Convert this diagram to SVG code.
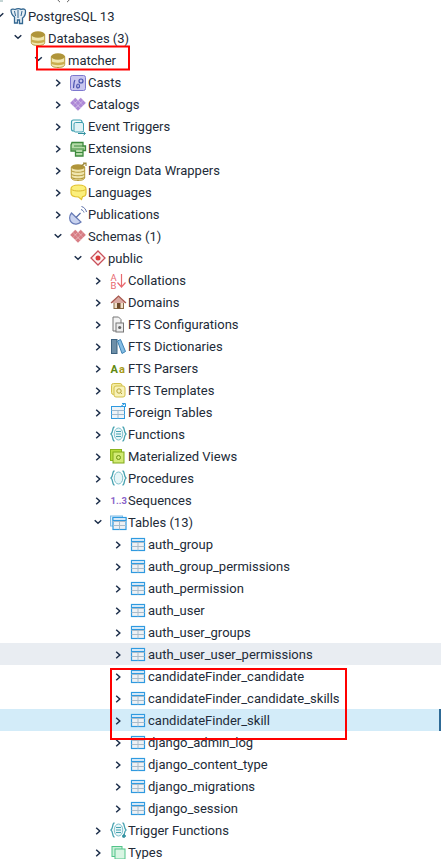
<svg xmlns="http://www.w3.org/2000/svg" width="441" height="859" viewBox="0 0 441 859">
<style>
text{font-family:Roboto,"Liberation Sans",sans-serif;font-size:13px;fill:#222b38}
.c{fill:none;stroke:#1c2e4a;stroke-width:1.500}
.red{fill:none;stroke:#f00;stroke-width:2}
</style>
<defs>
<path id="r" class="c" d="M-1.800-2.200L1.800 1L-1.800 4.200"/>
<path id="d" class="c" d="M-3.300-.7L0 2.300L3.300-.7"/>
<g id="db"><path d="M.3 3.500V11.500C.3 13.500 3 14.500 7 14.500S13.700 13.500 13.700 11.500V3.500Z" fill="#f0e6ae" stroke="#b59a3c"/><path d="M.3 8C2 10.300 12 10.300 13.700 8V10.500C12 12.800 2 12.800 .3 10.500Z" fill="#c9ae50"/><ellipse cx="7" cy="3.500" rx="6.800" ry="3.200" fill="#b0953a"/></g>
<g id="lattice"><g fill="currentColor" fill-opacity=".75" stroke="currentColor" stroke-opacity=".45" stroke-width=".6"><path d="M5.300.4L7.600 2.700L5.300 5L3 2.700ZM10.700.4L13 2.700L10.700 5L8.400 2.700ZM2.700 3.100L5 5.400L2.700 7.700L.4 5.400ZM8 3.100L10.300 5.400L8 7.700L5.700 5.400ZM13.300 3.100L15.600 5.400L13.300 7.700L11 5.400ZM5.300 5.700L7.600 8L5.300 10.300L3 8ZM10.700 5.700L13 8L10.700 10.300L8.400 8ZM8 8.400L10.300 10.700L8 13L5.700 10.700Z"/></g></g>
<g id="tbl"><rect x=".5" y="1.500" width="13" height="12" fill="#eef1f4" stroke="#2f9ae0" stroke-width="1.200"/><path d="M.5 5.500H13.500M.5 9.500H13.500M7 5.500V13.500" fill="none" stroke="#a9bccb"/><path d="M.5 1.500H13.500V4.500H.5Z" fill="#d3e8f8" stroke="#2f9ae0"/></g>
<g id="brace"><path d="M4.500 1C2 1 3.500 6 1 8C3.500 10 2 15 4.500 15M12.500 1C15 1 13.500 6 16 8C13.500 10 15 15 12.500 15" fill="none" stroke="#46a2b0" stroke-width="1.300"/><ellipse cx="8.500" cy="8" rx="4.300" ry="6" fill="#e8f6f8" stroke="#7cc0cc"/></g>
</defs>
<g id="row-highlights"><rect x="0" y="643" width="441" height="22" fill="#e9edf2"/><rect x="0" y="709" width="441" height="22" fill="#d3ecf9"/><rect x="439" y="709" width="2" height="22" fill="#2e6a96"/></g>
<g id="cut-off-row"><path d="M58 0C58.500 1 59 1.500 60 2M69 0C68.500 1 68 1.500 67 2" fill="none" stroke="#666"/><path d="M0 1H3" stroke="#8aa" stroke-width="1"/></g>
<g id="connectors">
<use href="#d" x="0" y="14"/><use href="#d" x="18" y="36"/><use href="#d" x="38.500" y="58"/>
<use href="#r" x="58" y="82"/><use href="#r" x="58" y="104"/><use href="#r" x="58" y="126"/><use href="#r" x="58" y="148"/><use href="#r" x="58" y="170"/><use href="#r" x="58" y="192"/><use href="#r" x="58" y="214"/><use href="#d" x="58" y="235"/>
<use href="#d" x="78" y="257"/>
<use href="#r" x="98" y="280"/><use href="#r" x="98" y="302"/><use href="#r" x="98" y="324"/><use href="#r" x="98" y="346"/><use href="#r" x="98" y="368"/><use href="#r" x="98" y="390"/><use href="#r" x="98" y="412"/><use href="#r" x="98" y="434"/><use href="#r" x="98" y="456"/><use href="#r" x="98" y="478"/><use href="#r" x="98" y="500"/><use href="#d" x="98" y="521"/>
<use href="#r" x="118" y="544"/><use href="#r" x="118" y="566"/><use href="#r" x="118" y="588"/><use href="#r" x="118" y="610"/><use href="#r" x="118" y="632"/><use href="#r" x="118" y="654"/><use href="#r" x="118" y="676"/><use href="#r" x="118" y="698"/><use href="#r" x="118" y="720"/><use href="#r" x="118" y="742"/><use href="#r" x="118" y="764"/><use href="#r" x="118" y="786"/><use href="#r" x="118" y="808"/>
<use href="#r" x="98" y="830"/><use href="#r" x="98" y="852"/>
</g>
<g id="postgresql"><path d="M11 10C11 9 14 9 15 9.500C17 8.500 20 8.500 21 9.500C23 8.500 26 9 25.500 11.500C25.500 14 24 17 22.500 18V23.500H19.500V20H17.500V23H14.500V17C12.500 15.500 11 13 11 10Z" fill="#e4edf4" stroke="#336791" stroke-width="1.300"/><path d="M18 10V18M14.500 11L15.500 16M22 11L21 16" stroke="#336791" fill="none"/><text x="28" y="21">PostgreSQL 13</text></g>
<g id="databases"><use href="#db" x="31" y="31"/><text x="48" y="43">Databases (3)</text></g>
<g id="matcher"><use href="#db" x="51" y="53"/><text x="68" y="65">matcher</text></g>
<g id="casts"><rect x="70.500" y="75.500" width="15" height="15" rx="2" fill="#c9c6ef" stroke="#7d78cf"/><path d="M75 80C73.500 82 74 86 73.500 88M78 84C76.500 84 76 88 78 88C80 88 80 84 78 84ZM81 79A2 2 0 1 1 81 83A2 2 0 1 1 81 79Z" fill="none" stroke="#4650ad" stroke-width="1.200"/><text x="88" y="87">Casts</text></g>
<g id="catalogs"><use href="#lattice" x="70" y="97.500" color="#9260c8"/><text x="88" y="109">Catalogs</text></g>
<g id="event-triggers"><rect x="71.500" y="120" width="10.500" height="11" rx="2" fill="#f1fafb" stroke="#3d9fb0" stroke-width="1.200"/><rect x="74" y="122.500" width="9.500" height="9.500" rx="1.500" fill="#e0f2f5" stroke="#3d9fb0"/><path d="M78 133.500H85M83.500 131.800L85.500 133.500L83.500 135.200" fill="none" stroke="#2f8f9f"/><text x="88" y="131">Event Triggers</text></g>
<g id="extensions"><path d="M72 142.500H83V146H85.500V150.500H83V156H75.500V151H71V145Z" fill="#b5dba8" stroke="#3e8a3e" stroke-width="1.300"/><path d="M74 146H83M71.500 149H84M76 152.500H83" stroke="#3e8a3e"/><text x="88" y="153">Extensions</text></g>
<g id="foreign-data-wrappers"><path d="M71.300 167V177.500C71.300 179.500 74 180.500 78 180.500S84.700 179.500 84.700 177.500V167Z" fill="#f0e6ae" stroke="#b59a3c"/><path d="M71.300 170.500C73 172.800 83 172.800 84.700 170.500M71.300 174C73 176.300 83 176.300 84.700 174M71.300 177.200C73 179.500 83 179.500 84.700 177.200" fill="none" stroke="#b59a3c" stroke-width="1.200"/><ellipse cx="78" cy="167" rx="6.800" ry="2.800" fill="#b0953a"/><path d="M81 166L85.500 163M83 163H86V166" stroke="#a08a3a" fill="none" stroke-width="1.200"/><text x="88" y="175">Foreign Data Wrappers</text></g>
<g id="languages"><path d="M71 189C71 186 75 185 78.500 185S86 186 86 189V193C86 195.500 84 196.500 82.500 196.700L81.500 199.500L78.500 197C74 197 71 195.500 71 193Z" fill="#fbef7c" stroke="#e2c22f" stroke-width="1.200"/><path d="M71.500 189.500C74 191.500 83 191.500 85.500 189.500" fill="none" stroke="#d9b92f"/><text x="88" y="197">Languages</text></g>
<g id="publications"><path d="M71.500 213C69 216 69 220 71.500 222.500C74 225 78.500 224.500 81 222Z" fill="#c8d2ef" stroke="#6a7db8" stroke-width="1.200"/><path d="M76 217.500L80.500 213" stroke="#5a6ea8" stroke-width="1.300"/><path d="M81 209.500C82.500 210 83.500 211 84 212.500M81.500 206.500C84 207 86 209.500 86.500 212" fill="none" stroke="#5a6ea8"/><text x="88" y="219">Publications</text></g>
<g id="schemas"><use href="#lattice" x="70" y="229.500" color="#c9505a"/><text x="88" y="241">Schemas (1)</text></g>
<g id="public"><path d="M98 251L105 258L98 265L91 258Z" fill="#fdf3f3" stroke="#c9505a" stroke-width="1.300"/><circle cx="98" cy="258" r="2.500" fill="#d83a3a"/><text x="108" y="263">public</text></g>
<g id="collations"><text x="110.500" y="281" style="font-size:9.500px;fill:#e8696f">A</text><text x="110.500" y="288.500" style="font-size:9.500px;fill:#e8696f">B</text><path d="M121.500 274V287M117.500 282.500L121.500 287L125.500 282.500" fill="none" stroke="#e8696f" stroke-width="1.200"/><text x="128" y="285">Collations</text></g>
<g id="domains"><rect x="114" y="302" width="9.500" height="6.500" fill="#f0dfc8" stroke="#8a6a44"/><path d="M111 303L118.500 296L126 303" fill="#d9a9a2" stroke="#a8584e" stroke-width="1.200"/><rect x="117" y="303" width="3.500" height="5.500" fill="#6e4a2a"/><text x="128" y="307">Domains</text></g>
<g id="fts-configurations"><path d="M113 317H118.500L121 319.500V331H113Z" fill="#f3f3f3" stroke="#777"/><rect x="116" y="323" width="7.500" height="9" fill="#ececec" stroke="#777"/><circle cx="119.700" cy="327.500" r="1.600" fill="#666"/><text x="128" y="329">FTS Configurations</text></g>
<g id="fts-dictionaries"><rect x="111.500" y="339.500" width="5.500" height="14" fill="#6d8fa8" stroke="#3c6280"/><path d="M117.500 341L120.500 339.500L125.500 351.500L122 353.500Z" fill="#85bde4" stroke="#3d83b5"/><text x="128" y="351">FTS Dictionaries</text></g>
<g id="fts-parsers"><text x="110.500" y="373" style="font-size:11px;font-weight:700;fill:#5f8a12">A</text><text x="119" y="373" style="font-size:11px;font-weight:700;fill:#a89a18">a</text><text x="128" y="373">FTS Parsers</text></g>
<g id="fts-templates"><rect x="111.500" y="383.500" width="10.500" height="11" rx="2" fill="#f3eba0" stroke="#d3c04b"/><rect x="114" y="386" width="11" height="11" rx="2" fill="#f8f2ba" stroke="#d3c04b"/><circle cx="119" cy="391" r="2.200" fill="none" stroke="#b6a338"/><path d="M120.500 392.500L122 394" stroke="#b6a338"/><text x="128" y="395">FTS Templates</text></g>
<g id="foreign-tables"><rect x="111.500" y="406.500" width="13" height="12" fill="#eef3f7" stroke="#2f9ae0"/><path d="M111.500 410.500H124.500M118 410.500V418.500M111.500 414.500H124.500" stroke="#9db9cf" fill="none"/><path d="M120 407L125 403.500M122 403.500H125.500V407" fill="none" stroke="#2f9ae0"/><text x="128" y="417">Foreign Tables</text></g>
<g id="functions"><use href="#brace" x="110" y="426"/><path d="M116 431.500H121M116 434H121M116 436.500H121" stroke="#46a2b0"/><text x="128" y="439">Functions</text></g>
<g id="materialized-views"><rect x="110.500" y="449.500" width="11" height="11" fill="#b8dc3e" stroke="#8ab41e"/><rect x="113" y="452" width="11" height="11" fill="#d2ea75" stroke="#80a818"/><circle cx="118.500" cy="457.500" r="2" fill="none" stroke="#6e9414"/><text x="128" y="461">Materialized Views</text></g>
<g id="procedures"><use href="#brace" x="110" y="470"/><text x="128" y="483">Procedures</text></g>
<g id="sequences"><text x="110.500" y="504" style="font-size:9.500px;font-weight:700;fill:#8a63c9">1..3</text><text x="128" y="505">Sequences</text></g>
<g id="tables"><rect x="110.500" y="516" width="12" height="10" fill="#e1effa" stroke="#7cbce8"/><use href="#tbl" x="112.500" y="516"/><text x="128" y="527">Tables (13)</text></g>
<g id="auth_group"><use href="#tbl" x="131" y="537"/><text x="148" y="549">auth_group</text></g>
<g id="auth_group_permissions"><use href="#tbl" x="131" y="559"/><text x="148" y="571">auth_group_permissions</text></g>
<g id="auth_permission"><use href="#tbl" x="131" y="581"/><text x="148" y="593">auth_permission</text></g>
<g id="auth_user"><use href="#tbl" x="131" y="603"/><text x="148" y="615">auth_user</text></g>
<g id="auth_user_groups"><use href="#tbl" x="131" y="625"/><text x="148" y="637">auth_user_groups</text></g>
<g id="auth_user_user_permissions"><use href="#tbl" x="131" y="647"/><text x="148" y="659">auth_user_user_permissions</text></g>
<g id="candidateFinder_candidate"><use href="#tbl" x="131" y="669"/><text x="148" y="681">candidateFinder_candidate</text></g>
<g id="candidateFinder_candidate_skills"><use href="#tbl" x="131" y="691"/><text x="148" y="703">candidateFinder_candidate_skills</text></g>
<g id="candidateFinder_skill"><use href="#tbl" x="131" y="713"/><text x="148" y="725">candidateFinder_skill</text></g>
<g id="django_admin_log"><use href="#tbl" x="131" y="735"/><text x="148" y="747">django_admin_log</text></g>
<g id="django_content_type"><use href="#tbl" x="131" y="757"/><text x="148" y="769">django_content_type</text></g>
<g id="django_migrations"><use href="#tbl" x="131" y="779"/><text x="148" y="791">django_migrations</text></g>
<g id="django_session"><use href="#tbl" x="131" y="801"/><text x="148" y="813">django_session</text></g>
<g id="trigger-functions"><use href="#brace" x="110" y="822"/><path d="M116 827.500H121M116 830H121M116 832.500H121" stroke="#46a2b0"/><path d="M122 836H126M124 834V838" stroke="#2f8f9f" stroke-width="1.400"/><text x="128" y="835">Trigger Functions</text></g>
<g id="types"><rect x="112" y="846.500" width="10" height="10" fill="#c9f0d8" stroke="#53c48a"/><rect x="115" y="849" width="10" height="10" fill="#d8f5e3" stroke="#53c48a"/><text x="128" y="857">Types</text></g>
<g id="highlight-boxes"><rect class="red" x="37" y="46.500" width="92" height="23"/><rect class="red" x="111" y="669" width="235" height="70"/></g>
</svg>
